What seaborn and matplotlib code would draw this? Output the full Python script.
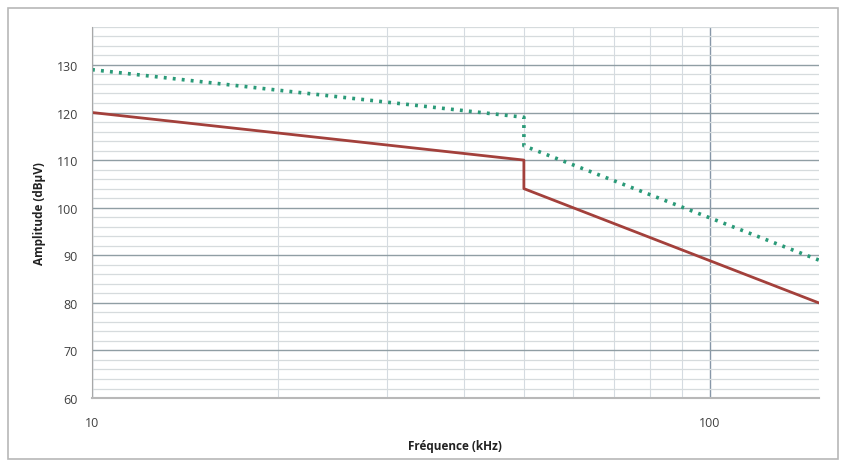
import matplotlib
matplotlib.use("Agg")
import matplotlib.pyplot as plt
import seaborn as sns
from matplotlib.ticker import FixedLocator, NullFormatter, MultipleLocator

# limit curves (kHz -> dBµV), step at 50 kHz
freq_solid = [10, 50, 50, 150]
amp_solid = [120, 110, 104, 80]
freq_dotted = [10, 50, 50, 150]
amp_dotted = [129, 119, 113, 89]

x_major = [10, 100]
x_minor = [20, 30, 40, 50, 60, 70, 80, 90]
y_ticks = [60, 70, 80, 90, 100, 110, 120, 130]

sns.set_style("white")
plt.rcParams['font.family'] = ['Open Sans', 'DejaVu Sans']

fig = plt.figure(figsize=(8.47, 4.64), dpi=100)
ax = fig.add_axes([0.1086, 0.140, 0.858, 0.800])

# outer frame of the picture
fig.add_artist(plt.Rectangle((0.009, 0.008), 0.98, 0.972, transform=fig.transFigure,
                             fill=False, edgecolor='#b8b8b8', lw=1.2))

sns.lineplot(x=freq_dotted, y=amp_dotted, sort=False, estimator=None, ax=ax,
             color='#2a9a78', lw=2.6, linestyle=(0, (0.8, 1.7)))
sns.lineplot(x=freq_solid, y=amp_solid, sort=False, estimator=None, ax=ax,
             color='#a3403b', lw=2.0)

ax.set_xscale('log')
ax.set_xlim(10, 150)
ax.set_ylim(60, 138)

ax.xaxis.set_major_locator(FixedLocator(x_major))
ax.xaxis.set_minor_locator(FixedLocator(x_minor))
ax.xaxis.set_major_formatter(plt.FixedFormatter([str(v) for v in x_major]))
ax.xaxis.set_minor_formatter(NullFormatter())
ax.set_yticks(y_ticks)
ax.yaxis.set_minor_locator(MultipleLocator(2))

ax.grid(which='major', axis='y', color='#909ea4', lw=1.0)
ax.grid(which='minor', axis='y', color='#d6dbdd', lw=0.9)
ax.grid(which='major', axis='x', color='#8797a8', lw=1.0)
ax.grid(which='minor', axis='x', color='#d5dbe1', lw=0.8)
ax.set_axisbelow(True)

for side in ['top', 'right']:
    ax.spines[side].set_visible(False)
ax.spines['left'].set_color('#a8a8a8')
ax.spines['bottom'].set_color('#b8b8b8')
ax.spines['bottom'].set_linewidth(1.5)

ax.tick_params(axis='both', which='major', labelsize=9, colors='#404040',
               length=4, direction='out', pad=6)
ax.tick_params(axis='x', which='major', pad=9)
ax.tick_params(axis='x', which='minor', length=4, color='#b0b0b0')
ax.tick_params(axis='y', which='minor', length=0)
ax.tick_params(axis='x', which='major', color='#a8a8a8')
ax.tick_params(axis='y', which='major', color='#a8a8a8')

ax.set_xlabel('Fréquence (kHz)', fontsize=8.5, fontweight='bold', color='#222222', labelpad=7)
ax.set_ylabel('Amplitude (dBµV)', fontsize=8.5, fontweight='bold', color='#222222', labelpad=8)

fig.savefig('out.png', dpi=100)
